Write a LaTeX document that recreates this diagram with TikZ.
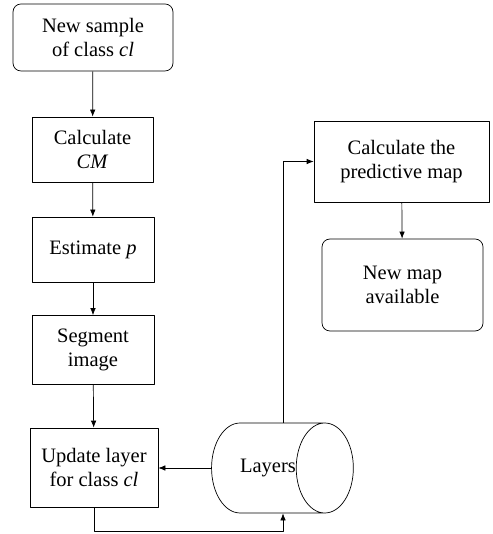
\documentclass[tikz,border=0pt]{standalone}
\usepackage{fontspec}
\setmainfont{Liberation Serif}
\usetikzlibrary{positioning,shapes.geometric,arrows.meta}
\begin{document}
\begin{tikzpicture}[x=1pt,y=1pt,font=\fontsize{20.5}{24.5}\selectfont,line join=round,line width=0.7pt,>={Latex[length=7pt,width=5.5pt]},
box/.style={draw,align=center,minimum width=122,minimum height=65,inner sep=2pt},
rbox/.style={box,rounded corners=8pt}]
\useasboundingbox (0,0) rectangle (492,534);
\node[rbox,minimum width=160,minimum height=67] (new) at (93,496.5) {New sample\\of class \textit{cl}};
\node[box,minimum width=121] (calc) at (92.5,384.5) {Calculate\\\textit{CM}};
\node[box] (est) at (93,284.5) {Estimate \textit{p}};
\node[box,minimum height=69] (seg) at (93,184) {Segment\\image};
\node[box,minimum width=128,minimum height=79] (upd) at (94,66.5) {Update layer\\for class \textit{cl}};
\node[cylinder,draw,aspect=3.2,minimum width=90,minimum height=141,inner sep=0pt] (lay) at (268,66) {Layers};
\node[box,minimum width=175,minimum height=81] (pred) at (401.5,372.5) {Calculate the\\predictive map};
\node[rbox,minimum width=161,minimum height=92] (avail) at (402.5,249) {New map\\available};
\foreach \a/\b in {new/calc,calc/est,est/seg,seg/upd,pred/avail}
  \draw[->] (\a) -- (\b);
\draw[->] (lay.west) -- (lay.west -| upd.east);
\draw[->] (upd.south) -- ++(0,-24) -| ([xshift=15pt]lay.south);
\draw[->] ([xshift=15pt]lay.north) |- (pred.west);
\end{tikzpicture}
\end{document}
